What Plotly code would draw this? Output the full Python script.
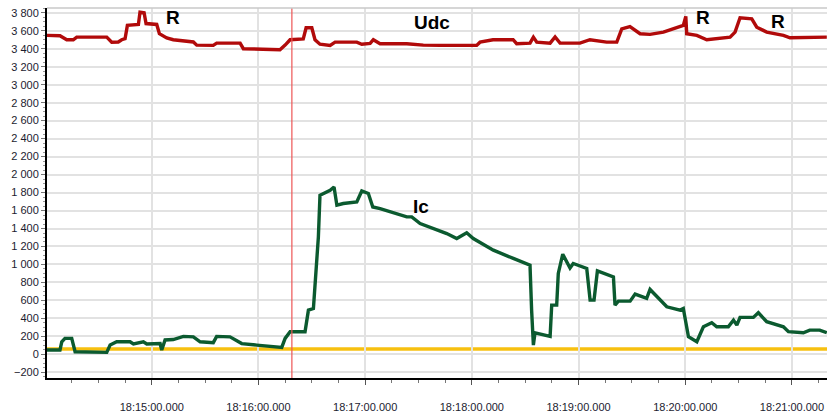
import pandas as pd
import plotly.graph_objects as go

BASE = "2024-01-01 18:14:00"

# Udc series (seconds after 18:14:00, volts)
udc_sec = [1.1, 8.4, 12.2, 15.9, 17.8, 34.7, 37.5, 41.2, 43.1, 45.0, 46.3, 52.5, 53.4, 55.7, 56.8,
           62.8, 64.3, 68.4, 72.1, 83.4, 85.3, 94.6, 96.5, 109.7, 111.5, 132.1, 135.0, 137.8, 145.2,
           146.8, 150.0, 151.8, 154.6, 160.3, 163.1, 175.3, 178.1, 182.8, 184.6, 188.4, 203.4, 212.7,
           222.1, 242.7, 244.6, 251.9, 263.2, 265.2, 272.7, 274.6, 276.5, 284.0, 286.8, 289.6, 300.8,
           306.4, 315.8, 321.5, 324.3, 328.9, 334.6, 340.2, 347.7, 355.2, 358.9, 360.3, 360.8, 366.5,
           372.1, 385.2, 388.0, 390.8, 397.4, 400.2, 405.8, 415.2, 418.9, 439.6]
udc_val = [3548, 3545, 3500, 3500, 3529, 3529, 3473, 3475, 3500, 3511, 3660, 3670, 3807, 3800, 3680,
           3670, 3567, 3520, 3500, 3475, 3440, 3437, 3462, 3462, 3400, 3389, 3440, 3500, 3510,
           3633, 3633, 3500, 3450, 3437, 3473, 3473, 3450, 3460, 3500, 3456, 3456, 3440,
           3437, 3437, 3473, 3500, 3500, 3456, 3462, 3529, 3473, 3462, 3530, 3462, 3462,
           3500, 3473, 3473, 3620, 3645, 3567, 3560, 3585, 3633, 3660, 3760, 3567, 3548,
           3500, 3529, 3585, 3744, 3733, 3640, 3585, 3548, 3522, 3529]

# Ic series (seconds after 18:14:00, amperes)
ic_sec = [1.1, 8.4, 9.4, 11.2, 15.0, 16.9, 34.7, 36.6, 40.3, 47.8, 49.7, 55.3, 57.2, 64.7, 65.6,
          67.5, 72.1, 77.8, 83.4, 87.2, 94.6, 96.5, 104.0, 110.6, 119.0, 128.4, 133.1, 135.0, 137.8,
          146.2, 148.1, 150.9, 151.8, 153.7, 154.6, 158.4, 160.3, 162.5, 164.1, 167.7, 175.3, 178.1,
          181.8, 184.3, 188.4, 203.4, 206.2, 210.9, 225.9, 231.5, 237.1, 240.8, 252.1, 263.3, 272.7,
          273.6, 274.6, 275.5, 284.0, 284.9, 287.7, 288.6, 291.1, 295.2, 297.0, 304.6, 306.5, 308.7,
          310.6, 319.6, 320.5, 322.4, 329.0, 331.8, 338.3, 340.2, 349.6, 357.1, 358.9, 361.8, 366.5,
          370.2, 374.9, 377.7, 384.2, 387.1, 389.0, 390.8, 398.3, 401.1, 405.8, 415.2, 418.0, 426.4,
          430.0, 435.6, 439.6]
ic_val = [48, 48, 140, 178, 178, 29, 22, 103, 140, 140, 115, 140, 115, 120, 48,
          160, 165, 200, 195, 140, 130, 200, 195, 120, 103, 92, 78, 178, 252,
          251, 492, 510, 751, 1307, 1770, 1807, 1826, 1862, 1659, 1678, 1696, 1818,
          1789, 1640, 1622, 1529, 1529, 1456, 1344, 1289, 1352, 1289, 1159, 1067, 992,
          492, 103, 240, 200, 548, 548, 900, 1114, 960, 1011, 955, 603, 603,
          929, 862, 548, 592, 592, 670, 622, 722, 529, 492, 510, 196, 140,
          307, 352, 307, 307, 381, 325, 411, 411, 463, 363, 307, 252, 240,
          270, 270, 240]

threshold = 59            # yellow reference level
cursor_sec = 138.8        # red cursor time (s after 18:14:00)
x_range_sec = [1.1, 439.7]
y_range = [-263, 3853]
y_ticks = list(range(-200, 3801, 200))

# text labels: (text, seconds, value)
labels = [("R", 72.0, 3748), ("Udc", 217.6, 3692), ("R", 370.0, 3748), ("R", 412.2, 3703), ("Ic", 211.4, 1648)]


def to_time(secs):
    return pd.Timestamp(BASE) + pd.to_timedelta(secs, unit="s")


fig = go.Figure()
fig.add_trace(go.Scatter(x=[to_time(s) for s in udc_sec], y=udc_val, mode="lines",
                         line=dict(color="#b10a0a", width=3.4), name="Udc", showlegend=False))
fig.add_trace(go.Scatter(x=[to_time(s) for s in ic_sec], y=ic_val, mode="lines",
                         line=dict(color="#0b5a2f", width=3.4), name="Ic", showlegend=False))
fig.add_hline(y=threshold, line=dict(color="#f7c010", width=3.5), layer="below")
fig.add_vline(x=to_time(cursor_sec), line=dict(color="#ee5555", width=1.2))

for txt, s, v in labels:
    fig.add_annotation(x=to_time(s), y=v, text="<b>" + txt + "</b>", showarrow=False,
                       font=dict(family="Liberation Sans", size=19, color="#000000"),
                       xanchor="center", yanchor="middle")

fig.add_shape(type="line", xref="paper", yref="paper", x0=0, x1=1, y0=1, y1=1,
              line=dict(color="#c8c8c8", width=1.5))

fig.update_layout(
    width=827, height=415,
    margin=dict(l=47, r=0, t=8, b=37),
    paper_bgcolor="white", plot_bgcolor="white",
    separators=". ",
    font=dict(family="Liberation Sans", size=11, color="#1c1c30"),
)
fig.update_xaxes(
    type="date", range=[to_time(x_range_sec[0]), to_time(x_range_sec[1])],
    dtick=60000, tick0=to_time(60), tickformat="%H:%M:%S.%L",
    showgrid=True, gridcolor="#e2e2e2", gridwidth=1.5,
    showline=True, linecolor="#000000", linewidth=2,
    ticks="outside", ticklen=5, tickcolor="#555555", ticklabelstandoff=13,
    minor=dict(dtick=15000, ticks="outside", ticklen=3, tickcolor="#777777", showgrid=False),
    zeroline=False, automargin=False,
)
fig.update_yaxes(
    range=y_range, tickvals=y_ticks, tickformat=",",
    showgrid=True, gridcolor="#e2e2e2", gridwidth=1.5,
    showline=True, linecolor="#000000", linewidth=2,
    ticks="outside", ticklen=4, tickcolor="#777777",
    minor=dict(dtick=50, ticks="outside", ticklen=2, tickcolor="#999999", showgrid=False),
    zeroline=False, automargin=False,
)

fig.write_html("out.html", config={"displayModeBar": False},
               post_script="document.body.style.margin='0';document.body.style.overflow='hidden';")
